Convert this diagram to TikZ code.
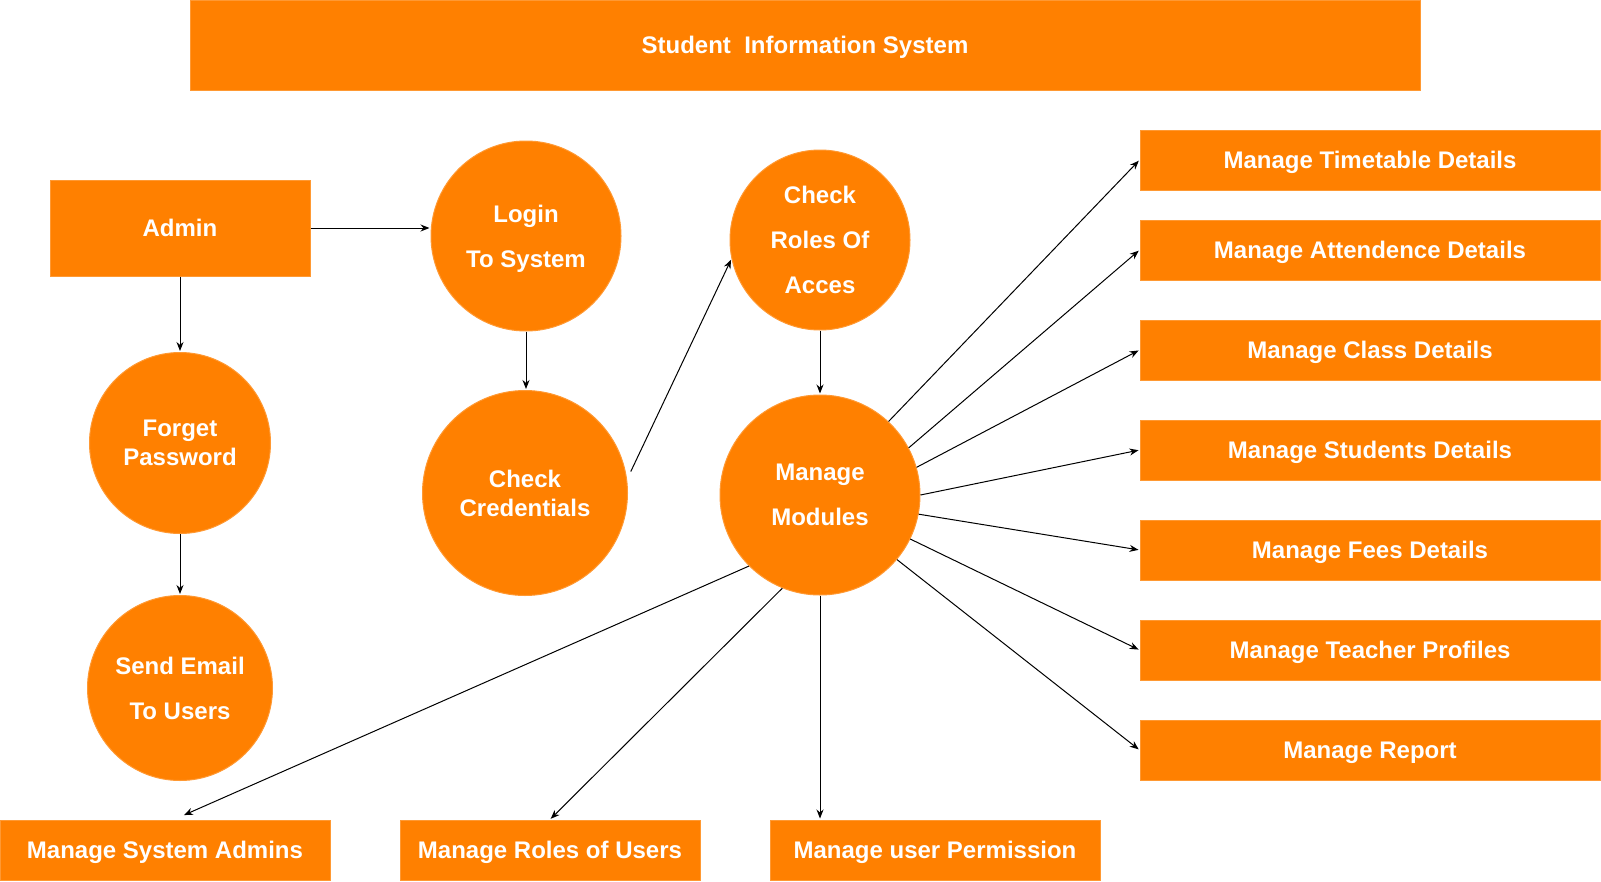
\documentclass[tikz,border=0pt]{standalone}
\usepackage{fontspec}
\setmainfont{Liberation Sans}
\usetikzlibrary{arrows,arrows.meta,shapes,calc}
\definecolor{sisorange}{RGB}{255,128,0}
\definecolor{sisedge}{RGB}{255,153,51}
\tikzset{
    >={Stealth[length=9pt,width=7pt]},
    shorten >=1pt,
    box/.style={rectangle, fill=sisorange, draw=sisedge, line width=1pt,
        text=white, font=\fontsize{24}{29}\selectfont\bfseries,
        text height=17pt, text depth=0pt,
        minimum height=60pt, inner sep=0pt},
    proc/.style={circle, fill=sisorange, draw=sisedge, line width=1pt,
        text=white, align=center, font=\fontsize{24}{29}\selectfont\bfseries,
        text depth=-9pt, inner sep=0pt},
    spaced/.style={font=\fontsize{24}{45}\selectfont\bfseries},
    flow/.style={->, line width=1pt, black},
}
\begin{document}
\begin{tikzpicture}[x=1pt, y=-1pt]
            \useasboundingbox (0,0) rectangle (1601,881);

            \node[box, minimum width=1230pt, minimum height=90pt] (title) at (805,45) {Student\ \ Information System};

            \node[box, minimum width=260pt, minimum height=96pt] (admin) at (180,228) {Admin};
            \node[proc, minimum size=181pt] (forget) at (180,443) {Forget\\Password};
            \node[proc, spaced, minimum size=185pt] (email) at (180,688) {Send Email\\To Users};

            \node[proc, spaced, text depth=-5pt, minimum size=190pt] (login) at (526,236) {Login\\To System};
            \node[proc, minimum size=205pt] (cred) at (525,493) {Check\\Credentials};
            \node[proc, spaced, minimum size=180pt] (roles) at (820,240) {Check\\Roles Of\\Acces};
            \node[proc, spaced, minimum size=200pt] (modules) at (820,495) {Manage\\Modules};

            \node[box, minimum width=460pt] (timetable) at (1370,160) {Manage Timetable Details};
            \node[box, minimum width=460pt] (attend) at (1370,250) {Manage Attendence Details};
            \node[box, minimum width=460pt] (class) at (1370,350) {Manage Class Details};
            \node[box, minimum width=460pt] (students) at (1370,450) {Manage Students Details};
            \node[box, minimum width=460pt] (fees) at (1370,550) {Manage Fees Details};
            \node[box, minimum width=460pt] (teacher) at (1370,650) {Manage Teacher Profiles};
            \node[box, minimum width=460pt] (report) at (1370,750) {Manage Report};

            \node[box, minimum width=330pt] (sysadmins) at (165,850) {Manage System Admins};
            \node[box, minimum width=300pt] (userroles) at (550,850) {Manage Roles of Users};
            \node[box, minimum width=330pt] (permission) at (935,850) {Manage user Permission};

            \draw[flow] (admin.east) -- (admin.east -| login.west);
            \draw[flow] (admin.south) -- (forget.north);
            \draw[flow] (forget.south) -- (email.north);
            \draw[flow] (login.south) -- (login.south |- cred.north);
            \draw[flow] ([xshift=5pt]cred.12) -- (roles.192);
            \draw[flow] (roles.south) -- (modules.north);

            \draw[flow] (modules.47) -- (timetable.west);
            \draw[flow] (modules.28) -- (attend.west);
            \draw[flow] (modules.16) -- (class.west);
            \draw[flow] (modules.0) -- (students.west);
            \draw[flow] (modules.-11) -- (fees.west);
            \draw[flow] (modules.-26) -- (teacher.west);
            \draw[flow] (modules.-40) -- (report.west);

            \draw[flow] (modules.-135) -- ([xshift=18pt,yshift=4pt]sysadmins.north);
            \draw[flow] (modules.-112) -- (userroles.north);
            \draw[flow] (modules.south) -- (modules.south |- permission.north);
        \end{tikzpicture}
\end{document}
